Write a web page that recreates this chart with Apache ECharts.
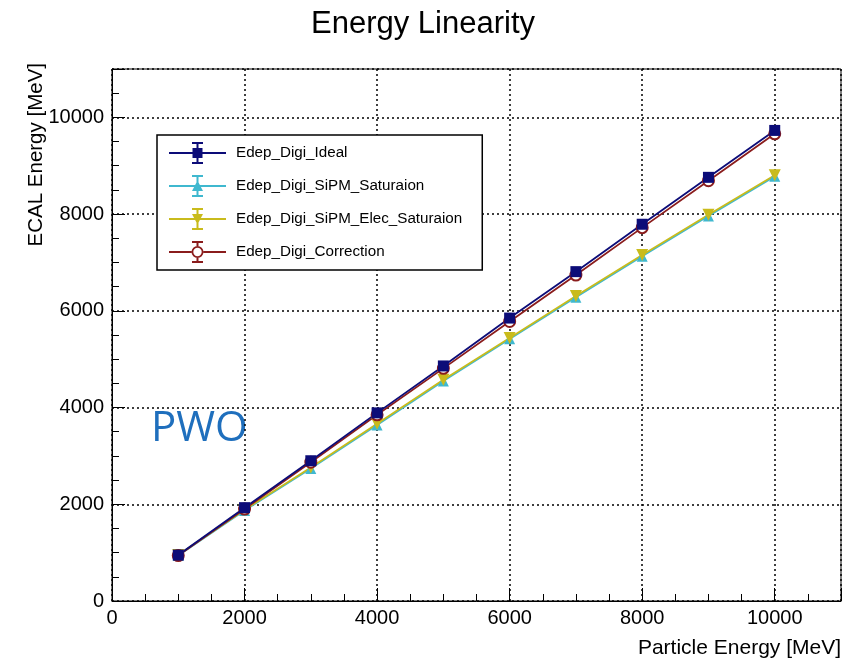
<!DOCTYPE html>
<html><head><meta charset="utf-8">
<script src="https://cdn.jsdelivr.net/npm/echarts@6/dist/echarts.min.js"></script>
<style>html,body{margin:0;padding:0;background:#fff}#c{width:846px;height:663px}</style>
</head><body><div id="c"></div>
<script>
const energies = [1000,2000,3000,4000,5000,6000,7000,8000,9000,10000];
const ideal      = [950,1930,2900,3890,4860,5850,6810,7790,8760,9730];
const sipmSat    = [940,1870,2740,3640,4550,5420,6280,7130,7960,8780];
const sipmElec   = [950,1885,2760,3665,4575,5440,6305,7155,7985,8805];
const correction = [940,1900,2870,3850,4810,5780,6740,7720,8690,9660];
const names = ['Edep_Digi_Ideal','Edep_Digi_SiPM_Saturaion','Edep_Digi_SiPM_Elec_Saturaion','Edep_Digi_Correction'];
const colors = ['#0c0c78','#3fb8cf','#c9bb1c','#8a1c1c'];

// legend icons: line + error bar + marker (57 x 22 box)
const bar = 'M0,10 h57 v2 h-57 Z M27.5,0 h2 v22 h-2 Z M23,0 h11 v2 h-11 Z M23,20 h11 v2 h-11 Z ';
const icons = [
  'path://' + bar + 'M23.5,6 h10 v10 h-10 Z',
  'path://' + bar + 'M23,16 L28.5,5.5 L34,16 Z',
  'path://' + bar + 'M23,6 L34,6 L28.5,16.5 Z',
  'path://M0,10 h22.5 v2 h-22.5 Z M34.5,10 h22.5 v2 h-22.5 Z M27.5,0 h2 v5 h-2 Z M27.5,17 h2 v5 h-2 Z M23,0 h11 v2 h-11 Z M23,20 h11 v2 h-11 Z M22.5,11 a6,6 0 1,0 12,0 a6,6 0 1,0 -12,0 Z M24.3,11 a4.2,4.2 0 1,1 8.4,0 a4.2,4.2 0 1,1 -8.4,0 Z'
];

const pairs = a => energies.map((x,i)=>[x,a[i]]);
const chart = echarts.init(document.getElementById('c'));
const fmt = v => (v > 10000 ? '' : String(v));
const axisCommon = {
  min:0, max:11000, interval:2000,
  axisLine:{show:true,onZero:false,lineStyle:{color:'#000',width:1}},
  axisTick:{show:true,inside:true,length:13,lineStyle:{color:'#000',width:1}},
  minorTick:{show:true,splitNumber:4,length:7,lineStyle:{color:'#000',width:1}},
  splitLine:{show:true,lineStyle:{color:'#000',type:[2,3],width:1.5}},
  axisLabel:{color:'#000',fontFamily:'Liberation Sans',fontSize:20,formatter:fmt}
};
function mk(i, data, symbol, size, extra){
  return Object.assign({
    name:names[i], type:'line', data:pairs(data), symbol:symbol, symbolSize:size,
    lineStyle:{color:colors[i],width:1.8}, itemStyle:{color:colors[i]},
    showSymbol:true, animation:false, z:3
  }, extra||{});
}
chart.setOption({
  animation:false,
  title:{text:'Energy Linearity',left:'center',top:4,textStyle:{fontFamily:'Liberation Sans',fontSize:31,fontWeight:'normal',color:'#000'}},
  grid:{left:112,right:5,top:69,bottom:62,show:true,borderColor:'#000',borderWidth:1,backgroundColor:'transparent',outerBoundsMode:'none',containLabel:false},
  xAxis:Object.assign({type:'value'},axisCommon,{axisLabel:Object.assign({},axisCommon.axisLabel,{margin:7})}),
  yAxis:Object.assign({type:'value'},axisCommon,{axisLabel:Object.assign({},axisCommon.axisLabel,{margin:8})}),
  legend:{
    left:157, top:135, orient:'vertical', width:318, height:132,
    padding:[7,20,7,12], itemGap:11, itemWidth:57, itemHeight:22,
    backgroundColor:'#fff', borderColor:'#000', borderWidth:1.5,
    itemStyle:{borderWidth:0},
    textStyle:{fontFamily:'Liberation Sans',fontSize:15.2,color:'#000',padding:[0,0,0,5]},
    data:names.map((n,i)=>({name:n, icon:icons[i], itemStyle:{color:colors[i],borderWidth:0}}))
  },
  series:[
    mk(1, sipmSat, 'triangle', 11),
    mk(2, sipmElec, 'triangle', 12, {symbolRotate:180}),
    mk(3, correction, 'emptyCircle', 11, {itemStyle:{color:colors[3],borderWidth:1.5}}),
    mk(0, ideal, 'rect', 11)
  ],
  graphic:[
    {type:'text',x:26,y:63,rotation:Math.PI/2,style:{text:'ECAL Energy [MeV]',font:'20.5px "Liberation Sans"',fill:'#000',textAlign:'right',textVerticalAlign:'top'}},
    {type:'text',right:5,top:638,style:{text:'Particle Energy [MeV]',font:'21px "Liberation Sans"',fill:'#000'}},
    {type:'text',left:151,top:408,style:{text:'PWO',font:'42px "Open Sans"',fill:'#1f6fbd'}}
  ]
});
</script></body></html>
